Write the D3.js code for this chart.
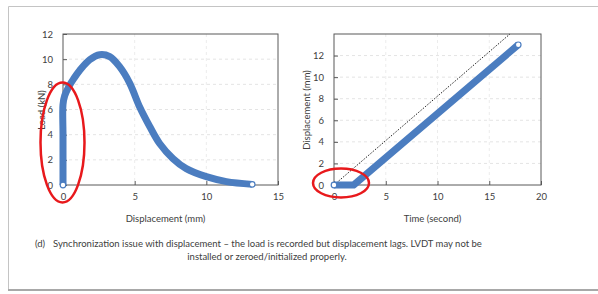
<!DOCTYPE html>
<meta charset="utf-8">
<head>
<script src="https://d3js.org/d3.v7.min.js"></script>
<style>
  body { margin: 0; background: #fff; }
  text { font-family: Lato, "Liberation Sans", sans-serif; fill: #404040; }
</style>
</head>
<body>
<svg id="my_dataviz" width="598" height="294"></svg>

<script>
// left panel: load vs displacement
var leftDisp = [0, 0, 0, 0, 0.12, 0.4, 0.75, 1.16, 1.86, 2.56, 3.26, 3.95, 4.65, 5.35, 6.05, 6.74, 7.67, 8.6, 10, 11.4, 13.2];
var leftLoad = [0, 2, 4, 6.4, 7.1, 7.8, 8.45, 9.1, 9.95, 10.35, 10.2, 9.4, 8.1, 6.2, 4.65, 3.3, 2.1, 1.3, 0.66, 0.27, 0.05];
var leftXTicks = [0, 5, 10, 15];
var leftYTicks = [0, 2, 4, 6, 8, 10, 12];

// right panel: displacement vs time
var rightTime = [0, 1.9, 17.8];
var rightDisp = [0, 0, 13];
var refTime = [0, 17.0];
var refDisp = [0, 14];
var rightXTicks = [0, 5, 10, 15, 20];
var rightYTicks = [0, 2, 4, 6, 8, 10, 12];

var captionLines = [
  "Synchronization issue with displacement \u2013 the load is recorded but displacement lags. LVDT may not be",
  "installed or zeroed/initialized properly."
];

var blue = "#4b7dc0";
var svg = d3.select("svg");

// outer frame
svg.append("path").attr("d", "M598,6.5H8.5V290").attr("fill", "none").attr("stroke", "#c4c4c4");
svg.append("line").attr("x1", 8).attr("x2", 598).attr("y1", 290).attr("y2", 290)
  .attr("stroke", "#a8a8a8").attr("stroke-width", 2);

function panel(opt) {
  var x = d3.scaleLinear().domain(opt.xd).range([opt.l, opt.r]);
  var y = d3.scaleLinear().domain(opt.yd).range([opt.b, opt.t]);
  var g = svg.append("g");

  // faint dashed grid
  g.selectAll(".gy").data(opt.yt.filter(function(d){ return d > 0 && d < opt.yd[1]; }))
    .enter().append("line")
      .attr("x1", opt.l).attr("x2", opt.r)
      .attr("y1", function(d){ return y(d); }).attr("y2", function(d){ return y(d); })
      .attr("stroke", "#e4e4e4").attr("stroke-dasharray", "3,3");
  g.selectAll(".gx").data(opt.xt.filter(function(d){ return d > 0 && d < opt.xd[1]; }))
    .enter().append("line")
      .attr("y1", opt.t).attr("y2", opt.b)
      .attr("x1", function(d){ return x(d); }).attr("x2", function(d){ return x(d); })
      .attr("stroke", "#ececec").attr("stroke-dasharray", "3,3");

  // axes with inside ticks
  g.append("g").attr("transform", "translate(0," + opt.b + ")")
    .call(d3.axisBottom(x).tickValues(opt.xt).tickSizeInner(-4).tickSizeOuter(0).tickPadding(8))
    .call(function(a){ a.select(".domain").remove(); a.selectAll("line").attr("stroke", "#595959");
      a.selectAll("text").attr("font-size", 9.5).attr("fill", "#404040"); });
  g.append("g").attr("transform", "translate(" + opt.l + ",0)")
    .call(d3.axisLeft(y).tickValues(opt.yt).tickSizeInner(-4).tickSizeOuter(0).tickPadding(10))
    .call(function(a){ a.select(".domain").remove(); a.selectAll("line").attr("stroke", "#595959");
      a.selectAll("text").attr("font-size", 9.5).attr("fill", "#404040"); });

  g.append("rect").attr("x", opt.l).attr("y", opt.t)
    .attr("width", opt.r - opt.l).attr("height", opt.b - opt.t)
    .attr("fill", "none").attr("stroke", "#595959");

  g.append("text").attr("x", (opt.l + opt.r) / 2 - 5).attr("y", 222)
    .attr("text-anchor", "middle").attr("font-size", 9.5).text(opt.xl);
  g.append("text").attr("transform", "translate(" + opt.yx + "," + 110 + ") rotate(-90)")
    .attr("text-anchor", "middle").attr("font-size", 9.5).text(opt.yl);
  return { x: x, y: y, g: g };
}

var L = panel({ l: 63, r: 278, t: 34, b: 185, xd: [0, 15], yd: [0, 12],
  xt: leftXTicks, yt: leftYTicks, xl: "Displacement (mm)", yl: "Load (kN)", yx: 45 });
var R = panel({ l: 334, r: 541, t: 34, b: 185, xd: [0, 20], yd: [0, 14],
  xt: rightXTicks, yt: rightYTicks, xl: "Time (second)", yl: "Displacement (mm)", yx: 310 });

// left series
var leftData = leftDisp.map(function(d, i){ return [d, leftLoad[i]]; });
L.g.append("path").datum(leftData)
  .attr("fill", "none").attr("stroke", blue).attr("stroke-width", 7)
  .attr("d", d3.line().curve(d3.curveCatmullRom.alpha(0.5))
    .x(function(d){ return L.x(d[0]); }).y(function(d){ return L.y(d[1]); }));
L.g.selectAll(".end").data([leftData[0], leftData[leftData.length - 1]]).enter().append("circle")
  .attr("cx", function(d){ return L.x(d[0]); }).attr("cy", function(d){ return L.y(d[1]); })
  .attr("r", 2.8).attr("fill", "#fff").attr("stroke", blue).attr("stroke-width", 1.2);

// right series
var refData = refTime.map(function(d, i){ return [d, refDisp[i]]; });
R.g.append("path").datum(refData)
  .attr("fill", "none").attr("stroke", "#222").attr("stroke-width", 1).attr("stroke-dasharray", "1.5,1.5")
  .attr("d", d3.line().x(function(d){ return R.x(d[0]); }).y(function(d){ return R.y(d[1]); }));
var rightData = rightTime.map(function(d, i){ return [d, rightDisp[i]]; });
R.g.append("path").datum(rightData)
  .attr("fill", "none").attr("stroke", blue).attr("stroke-width", 7).attr("stroke-linejoin", "round")
  .attr("d", d3.line().x(function(d){ return R.x(d[0]); }).y(function(d){ return R.y(d[1]); }));
R.g.selectAll(".end").data([rightData[0], rightData[rightData.length - 1]]).enter().append("circle")
  .attr("cx", function(d){ return R.x(d[0]); }).attr("cy", function(d){ return R.y(d[1]); })
  .attr("r", 2.8).attr("fill", "#fff").attr("stroke", blue).attr("stroke-width", 1.2);

// red highlight ellipses
svg.append("ellipse").attr("cx", 62.5).attr("cy", 142.5).attr("rx", 22).attr("ry", 60)
  .attr("fill", "none").attr("stroke", "#e8191c").attr("stroke-width", 2.5);
svg.append("ellipse").attr("cx", 341).attr("cy", 183).attr("rx", 28).attr("ry", 14.5)
  .attr("fill", "none").attr("stroke", "#e8191c").attr("stroke-width", 2.5);

// caption
svg.append("text").attr("x", 35).attr("y", 247).attr("font-size", 9.5).text("(d)");
svg.append("text").attr("x", 53).attr("y", 247).attr("font-size", 9.5).text(captionLines[0]);
svg.append("text").attr("x", 267).attr("y", 260).attr("font-size", 9.5)
  .attr("text-anchor", "middle").text(captionLines[1]);
</script>
</body>
